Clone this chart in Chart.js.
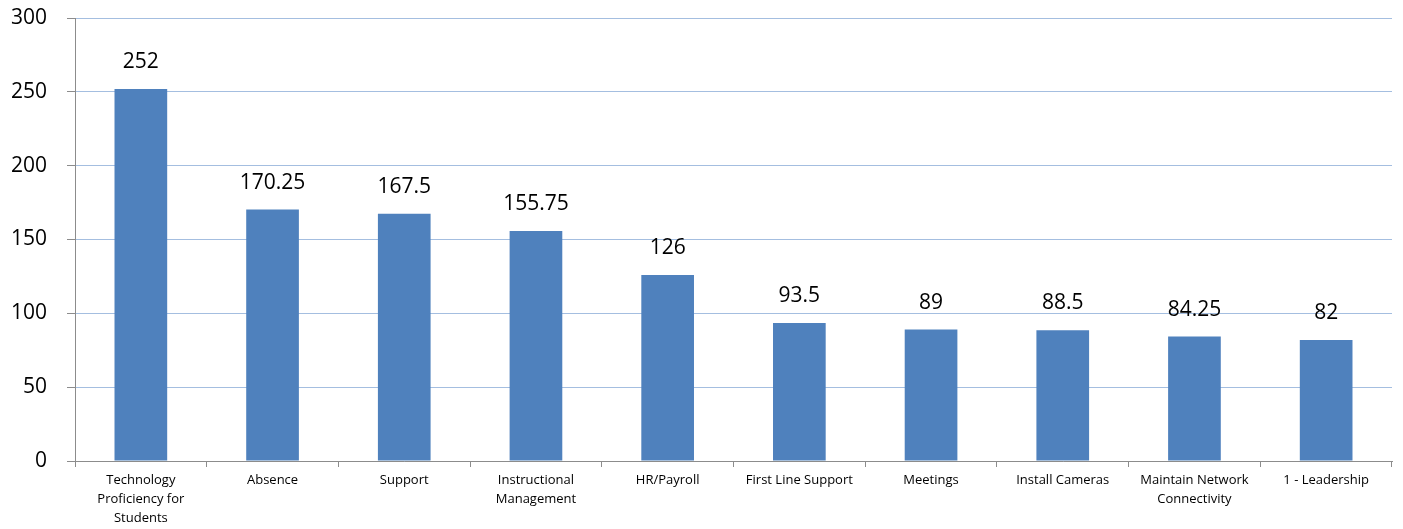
<!DOCTYPE html>
<html>
<head>
<meta charset="utf-8">
<script src="https://cdn.jsdelivr.net/npm/chart.js@4/dist/chart.umd.min.js"></script>
<style>
  html, body { margin: 0; padding: 0; background: #fff; }
  #wrap { width: 1403px; height: 529px; }
</style>
</head>
<body>
<div id="wrap"><canvas id="barChart"></canvas></div>
<script>
const categories = [
    ['Technology', 'Proficiency for', 'Students'],
    'Absence',
    'Support',
    ['Instructional', 'Management'],
    'HR/Payroll',
    'First Line Support',
    'Meetings',
    'Install Cameras',
    ['Maintain Network', 'Connectivity'],
    '1 - Leadership'
];
const hours = [252, 170.25, 167.5, 155.75, 126, 93.5, 89, 88.5, 84.25, 82];
const yTicks = [0, 50, 100, 150, 200, 250, 300];

const fontFamily = '"Open Sans", "Noto Sans", sans-serif';

// draws the value above each bar
const valueLabels = {
    id: 'valueLabels',
    afterDatasetsDraw(chart) {
        const ctx = chart.ctx;
        const meta = chart.getDatasetMeta(0);
        ctx.save();
        ctx.font = '21px ' + fontFamily;
        ctx.fillStyle = '#000';
        ctx.textAlign = 'center';
        ctx.textBaseline = 'middle';
        meta.data.forEach((bar, i) => {
            ctx.fillText(String(hours[i]), bar.x, bar.y - 27);
        });
        ctx.restore();
    }
};

const ctx = document.getElementById('barChart').getContext('2d');
const barChart = new Chart(ctx, {
    type: 'bar',
    data: {
        labels: categories,
        datasets: [{
            data: hours,
            backgroundColor: '#4F81BD',
            categoryPercentage: 1.0,
            barPercentage: 0.4
        }]
    },
    options: {
        responsive: true,
        maintainAspectRatio: false,
        animation: false,
        layout: { padding: { top: 18, right: 11, left: 0, bottom: 0 } },
        plugins: {
            legend: { display: false },
            tooltip: { enabled: false }
        },
        scales: {
            x: {
                offset: true,
                grid: {
                    offset: true,
                    drawOnChartArea: false,
                    drawTicks: true,
                    tickLength: 6,
                    tickColor: '#8c8c8c'
                },
                border: { color: '#8c8c8c', width: 1 },
                ticks: {
                    color: '#000',
                    font: { family: fontFamily, size: 13, lineHeight: 1.45 },
                    padding: 4,
                    maxRotation: 0,
                    autoSkip: false
                },
                afterFit(scale) {
                    scale.height = 68;
                    scale.paddingLeft = 0;
                    scale.paddingRight = 0;
                }
            },
            y: {
                min: 0,
                max: 300,
                afterBuildTicks(scale) { scale.ticks = yTicks.map(v => ({ value: v })); },
                grid: {
                    color: '#A4BEE0',
                    lineWidth: 1,
                    tickLength: 8,
                    tickColor: '#8c8c8c'
                },
                border: { color: '#8c8c8c', width: 1 },
                ticks: {
                    color: '#000',
                    font: { family: fontFamily, size: 21 },
                    padding: 20
                },
                afterFit(scale) {
                    scale.width = 75;
                    scale.paddingTop = 0;
                    scale.paddingBottom = 0;
                }
            }
        }
    },
    plugins: [valueLabels]
});
</script>
</body>
</html>
